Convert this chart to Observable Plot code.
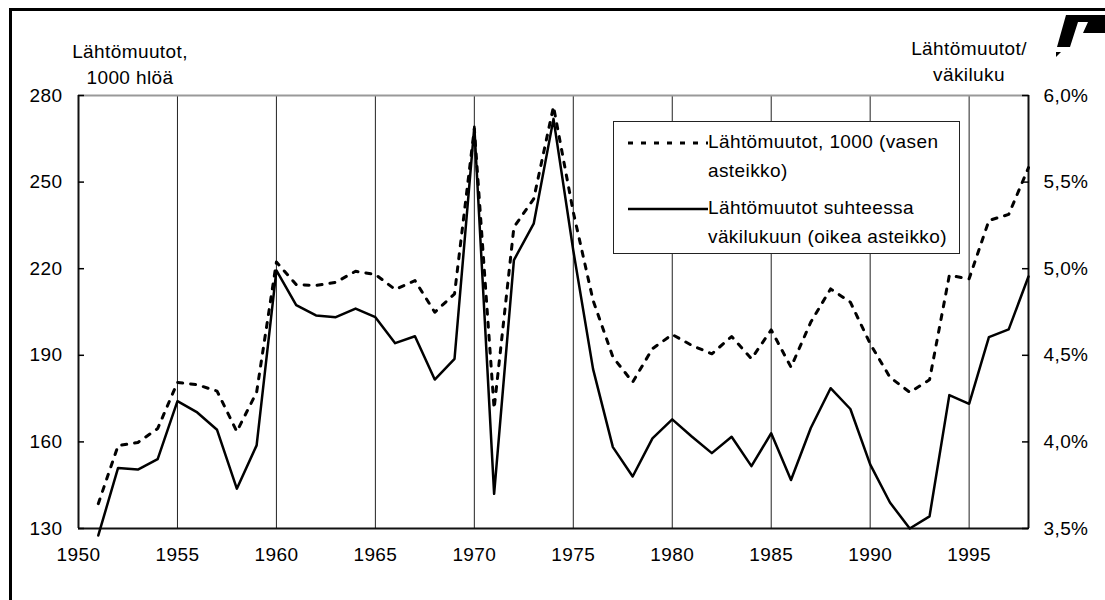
<!DOCTYPE html>
<html>
<head>
<meta charset="utf-8">
<script src="https://cdn.jsdelivr.net/npm/d3@7"></script>
<script src="https://cdn.jsdelivr.net/npm/@observablehq/plot@0.6"></script>
<style>
  html, body { margin: 0; padding: 0; background: #fff; }
  #wrap { position: relative; width: 1105px; height: 600px; overflow: hidden;
          font-family: Arial, "Liberation Sans", sans-serif; font-size: 19px; letter-spacing: 0.4px; color: #000; }
  #frame { position: absolute; left: 9px; top: 8px; width: 1200px; height: 700px;
           border-left: 3px solid #000; border-top: 3px solid #000; }
  .lbl { position: absolute; white-space: nowrap; line-height: 26px; text-align: center; }
  #legend { position: absolute; left: 613px; top: 121px; width: 345px; height: 131px;
            border: 1px solid #222; background: #fff; }
  .ltxt { position: absolute; left: 94px; white-space: nowrap; line-height: 28.5px; }
  #chart { position: absolute; left: 0; top: 0; }
</style>
</head>
<body>
<div id="wrap">
  <div id="frame"></div>
  <div id="chart"></div>
  <div class="lbl" style="left:50px; top:39px; width:160px;">Lähtömuutot,<br>1000 hlöä</div>
  <div class="lbl" style="left:889px; top:36px; width:160px;">Lähtömuutot/<br>väkiluku</div>
  <div id="legend">
    <svg width="100" height="131" style="position:absolute;left:0;top:0">
      <line x1="14" x2="94" y1="21" y2="21" stroke="#000" stroke-width="3" stroke-dasharray="5,8"></line>
      <line x1="14" x2="94" y1="87" y2="87" stroke="#000" stroke-width="2.5"></line>
    </svg>
    <div class="ltxt" style="top:6px;">Lähtömuutot, 1000 (vasen<br>asteikko)</div>
    <div class="ltxt" style="top:72px;">Lähtömuutot suhteessa<br>väkilukuun (oikea asteikko)</div>
  </div>
  <svg width="60" height="60" style="position:absolute;left:1050px;top:10px">
    <path d="M16,5 L55,5 L55,23 L33,23 L38,12 L28,12 L20,37 L7,37 Z" fill="#000"></path>
    <path d="M6,42 L11,42 L6,47 Z" fill="#000"></path>
  </svg>
</div>
<script>
// Years
const years = [1951,1952,1953,1954,1955,1956,1957,1958,1959,1960,
  1961,1962,1963,1964,1965,1966,1967,1968,1969,1970,
  1971,1972,1973,1974,1975,1976,1977,1978,1979,1980,
  1981,1982,1983,1984,1985,1986,1987,1988,1989,1990,
  1991,1992,1993,1994,1995,1996,1997,1998];
// Lähtömuutot, 1000 henkeä (vasen asteikko)
const lahtomuutot = [138.6,158.7,159.8,164.6,180.6,179.8,177.6,163.6,177.2,222.3,
  214.5,214.2,215.3,219.1,218.0,212.8,215.9,204.9,211.3,268.5,
  171.5,234.4,244.2,276.2,239.6,209.0,189.4,180.7,192.3,197.2,
  193.4,190.5,196.5,188.8,198.8,185.9,201.5,213.0,208.4,194.0,
  182.4,177.2,181.5,217.7,216.5,236.7,238.8,255.0];
// Lähtömuutot suhteessa väkilukuun, % (oikea asteikko)
const osuus = [3.46,3.85,3.84,3.90,4.235,4.17,4.07,3.73,3.98,4.99,
  4.79,4.73,4.72,4.77,4.72,4.57,4.61,4.36,4.48,5.82,
  3.70,5.05,5.26,5.865,5.105,4.42,3.97,3.80,4.02,4.13,
  4.03,3.935,4.03,3.86,4.05,3.78,4.08,4.31,4.19,3.87,
  3.65,3.50,3.57,4.27,4.22,4.605,4.65,4.955];
// Axis ticks
const xTicks = [1950,1955,1960,1965,1970,1975,1980,1985,1990,1995];
const gridYears = [1955,1960,1965,1970,1975,1980,1985,1990,1995];
const leftTicks = [130,160,190,220,250,280];
const rightTicks = [3.5,4.0,4.5,5.0,5.5,6.0];

// map right-axis (%) onto the left scale
const leftMin = 130, leftMax = 280, rightMin = 3.5, rightMax = 6.0;
const toLeft = p => leftMin + (p - rightMin) / (rightMax - rightMin) * (leftMax - leftMin);
const fmtPct = p => p.toFixed(1).replace(".", ",") + "%";

const data = years.map((yr, i) => ({year: yr, lahto: lahtomuutot[i], osuus: osuus[i]}));

const chart = Plot.plot({
  width: 1105,
  height: 600,
  marginLeft: 78,
  marginRight: 77,
  marginTop: 95,
  marginBottom: 72,
  style: {fontFamily: 'Arial, "Liberation Sans", sans-serif', fontSize: "19px", letterSpacing: "0.4px", color: "#000", background: "transparent"},
  x: {domain: [1950, 1998]},
  y: {domain: [leftMin, leftMax]},
  marks: [
    Plot.ruleX(gridYears, {stroke: "#222", strokeWidth: 1}),
    Plot.ruleY([leftMax], {stroke: "#999", strokeWidth: 2}),
    Plot.ruleY([leftMin], {stroke: "#111", strokeWidth: 2}),
    Plot.ruleX([1950], {stroke: "#111", strokeWidth: 2}),
    Plot.ruleX([1998], {stroke: "#111", strokeWidth: 2}),
    Plot.axisX({ticks: xTicks, tickSize: 0, tickPadding: 19, tickFormat: d => String(d), label: null}),
    Plot.axisY({anchor: "left", ticks: leftTicks, tickSize: -6, tickPadding: 22, label: null, strokeWidth: 1.5}),
    Plot.axisY({anchor: "right", ticks: rightTicks.map(toLeft), tickSize: -7, tickPadding: 22,
                tickFormat: v => fmtPct(rightMin + (v - leftMin) / (leftMax - leftMin) * (rightMax - rightMin)),
                label: null, strokeWidth: 1.5}),
    Plot.line(data, {x: "year", y: "lahto", stroke: "#000", strokeWidth: 3, strokeDasharray: "5,8"}),
    Plot.line(data, {x: "year", y: d => toLeft(d.osuus), stroke: "#000", strokeWidth: 2.5})
  ]
});
document.getElementById("chart").appendChild(chart);
</script>
</body>
</html>
